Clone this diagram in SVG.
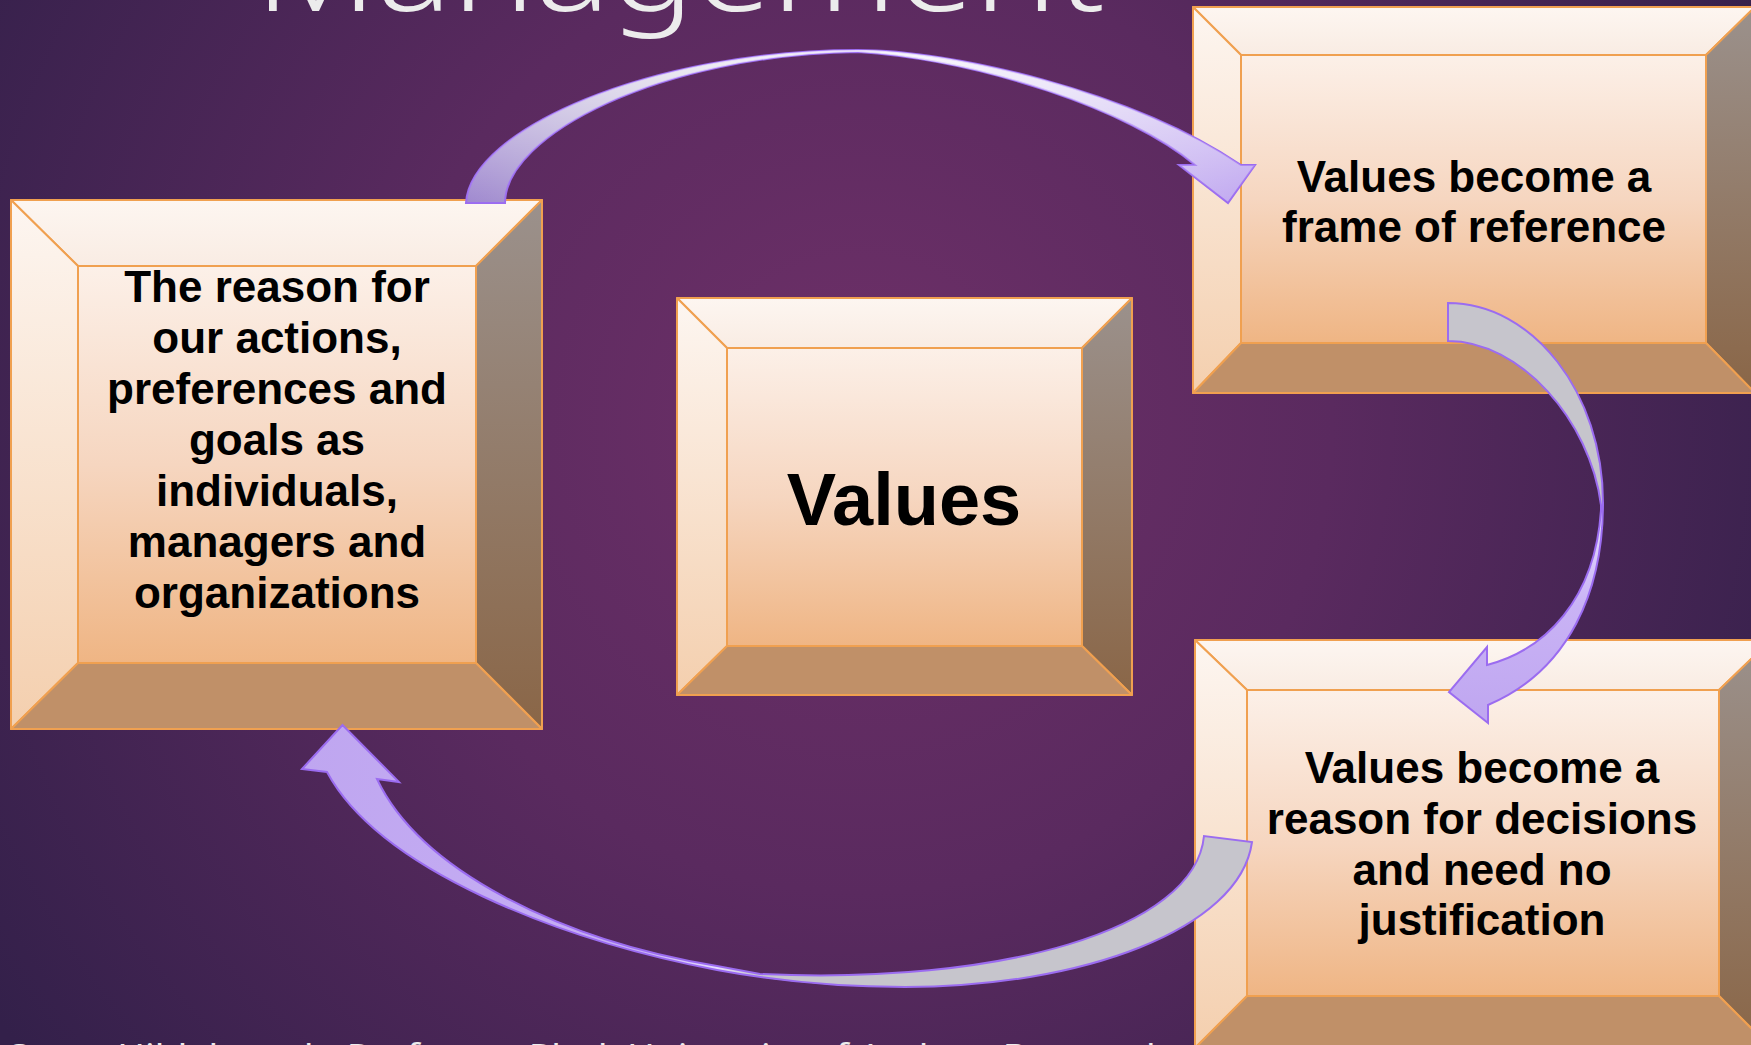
<svg xmlns="http://www.w3.org/2000/svg" width="1751" height="1045" viewBox="0 0 1751 1045">
<defs>
<radialGradient id="bg" gradientUnits="userSpaceOnUse" cx="860" cy="420" r="1050">
<stop offset="0" stop-color="#6e3068"/>
<stop offset="0.45" stop-color="#5a2a5f"/>
<stop offset="1" stop-color="#33204a"/>
</radialGradient>
<linearGradient id="gFace" x1="0" y1="0" x2="0" y2="1">
<stop offset="0" stop-color="#fcf0e8"/>
<stop offset="0.5" stop-color="#f6d6c0"/>
<stop offset="1" stop-color="#efb584"/>
</linearGradient>
<linearGradient id="gTop" x1="0" y1="0" x2="0" y2="1">
<stop offset="0" stop-color="#fdf6f1"/>
<stop offset="1" stop-color="#f9ece3"/>
</linearGradient>
<linearGradient id="gLeft" x1="0" y1="0" x2="0" y2="1">
<stop offset="0" stop-color="#fdf6f1"/>
<stop offset="1" stop-color="#f4cfae"/>
</linearGradient>
<linearGradient id="gRight" x1="0" y1="0" x2="0" y2="1">
<stop offset="0" stop-color="#9b918c"/>
<stop offset="1" stop-color="#8a6647"/>
</linearGradient>
<linearGradient id="a1base" gradientUnits="userSpaceOnUse" x1="466" y1="0" x2="1255" y2="0">
<stop offset="0" stop-color="#9f88cf"/>
<stop offset="0.3" stop-color="#c4c0d6"/>
<stop offset="0.55" stop-color="#e4e0f2"/>
<stop offset="1" stop-color="#bfa6f0"/>
</linearGradient>
<linearGradient id="a1hi" gradientUnits="userSpaceOnUse" x1="0" y1="50" x2="0" y2="205">
<stop offset="0" stop-color="#ffffff" stop-opacity="0.75"/>
<stop offset="1" stop-color="#ffffff" stop-opacity="0"/>
</linearGradient>
<linearGradient id="a2" gradientUnits="userSpaceOnUse" x1="0" y1="303" x2="0" y2="723">
<stop offset="0" stop-color="#c6c5cc"/>
<stop offset="0.47" stop-color="#c6c5cc"/>
<stop offset="0.5" stop-color="#e6defd"/>
<stop offset="0.72" stop-color="#c9b3f5"/>
<stop offset="1" stop-color="#bfa6f0"/>
</linearGradient>
<linearGradient id="a3" gradientUnits="userSpaceOnUse" x1="300" y1="0" x2="1252" y2="0">
<stop offset="0" stop-color="#bfa6f0"/>
<stop offset="0.36" stop-color="#c6aff4"/>
<stop offset="0.44" stop-color="#e6defc"/>
<stop offset="0.48" stop-color="#c6c5cc"/>
<stop offset="1" stop-color="#c6c5cc"/>
</linearGradient>
</defs>
<style>
.bv{stroke:#f0a050;stroke-width:2;stroke-linejoin:round}
.top{fill:url(#gTop)}
.left{fill:url(#gLeft)}
.right{fill:url(#gRight)}
.bot{fill:#c09068}
.face{fill:url(#gFace)}
.t{font-family:"Liberation Sans",Arial,sans-serif;font-weight:bold;font-size:44px;fill:#000;text-anchor:middle}
.big{font-size:74px}
.arr{stroke:#9b6cf0;stroke-width:2;stroke-linejoin:miter}
</style>
<rect x="0" y="0" width="1751" height="1045" fill="url(#bg)"/>
<text x="255" y="11" font-family="'Noto Sans','DejaVu Sans',sans-serif" font-weight="300" font-size="117" fill="#ececec" textLength="850" lengthAdjust="spacingAndGlyphs">Management</text>
<text x="8" y="1066" font-family="'Noto Sans','DejaVu Sans',sans-serif" font-size="30" fill="#ececec" textLength="1158" lengthAdjust="spacingAndGlyphs">Steen Hildebrandt, Professor, Ph.d. University of Aarhus, Denmark</text>

<g id="node-reason">
<polygon class="bv top" points="11,200 542,200 476,266 78,266"/>
<polygon class="bv left" points="11,200 78,266 78,663 11,729"/>
<polygon class="bv right" points="542,200 542,729 476,663 476,266"/>
<polygon class="bv bot" points="11,729 78,663 476,663 542,729"/>
<rect class="bv face" x="78" y="266" width="398" height="397"/>
<text class="t" x="277" y="302">The reason for</text>
<text class="t" x="277" y="353">our actions,</text>
<text class="t" x="277" y="404">preferences and</text>
<text class="t" x="277" y="455">goals as</text>
<text class="t" x="277" y="506">individuals,</text>
<text class="t" x="277" y="557">managers and</text>
<text class="t" x="277" y="608">organizations</text>
</g>

<g id="node-values">
<polygon class="bv top" points="677,298 1132,298 1082,348 727,348"/>
<polygon class="bv left" points="677,298 727,348 727,646 677,695"/>
<polygon class="bv right" points="1132,298 1132,695 1082,646 1082,348"/>
<polygon class="bv bot" points="677,695 727,646 1082,646 1132,695"/>
<rect class="bv face" x="727" y="348" width="355" height="298"/>
<text class="t big" x="904" y="525">Values</text>
</g>

<g id="node-frame">
<polygon class="bv top" points="1193,7 1755,7 1706,55 1241,55"/>
<polygon class="bv left" points="1193,7 1241,55 1241,343 1193,393"/>
<polygon class="bv right" points="1755,7 1755,393 1706,343 1706,55"/>
<polygon class="bv bot" points="1193,393 1241,343 1706,343 1755,393"/>
<rect class="bv face" x="1241" y="55" width="465" height="288"/>
<text class="t" x="1474" y="192">Values become a</text>
<text class="t" x="1474" y="242">frame of reference</text>
</g>

<g id="node-decisions">
<polygon class="bv top" points="1195,640 1771,640 1719,690 1247,690"/>
<polygon class="bv left" points="1195,640 1247,690 1247,996 1195,1048"/>
<polygon class="bv right" points="1771,640 1771,1048 1719,996 1719,690"/>
<polygon class="bv bot" points="1195,1048 1247,996 1719,996 1771,1048"/>
<rect class="bv face" x="1247" y="690" width="472" height="306"/>
<text class="t" x="1482" y="783">Values become a</text>
<text class="t" x="1482" y="834">reason for decisions</text>
<text class="t" x="1482" y="885">and need no</text>
<text class="t" x="1482" y="935">justification</text>
</g>

<g id="connectors">
<path id="arrow1" class="arr" fill="url(#a1base)" d="M466,203 C470,130 650,50 858,50 C950,50 1130,90 1241,165 L1255,165 L1228,203 L1179,165 L1195,165 C1130,110 980,60 858,52 C660,55 505,135 505,203 Z"/>
<path fill="url(#a1hi)" d="M466,203 C470,130 650,50 858,50 C950,50 1130,90 1241,165 L1255,165 L1228,203 L1179,165 L1195,165 C1130,110 980,60 858,52 C660,55 505,135 505,203 Z"/>
<path id="arrow2" class="arr" fill="url(#a2)" d="M1448,303 C1533,303 1603,393 1603,503 C1603,590 1570,670 1488,705 L1488,723 L1449,692 L1487,647 L1487,665 C1545,650 1595,600 1601,510 L1601,505 C1590,420 1520,341 1448,341 Z"/>
<path id="arrow3" class="arr" fill="url(#a3)" d="M1252,842 C1240,930 1080,987 905,987 C820,987 760,978 717,970 C560,940 380,870 327,772 L302,769 L342.5,725 L399,782 L377,779 C420,870 560,940 717,966 L760,974 C1000,985 1195,930 1204,836 Z"/>
</g>
</svg>
